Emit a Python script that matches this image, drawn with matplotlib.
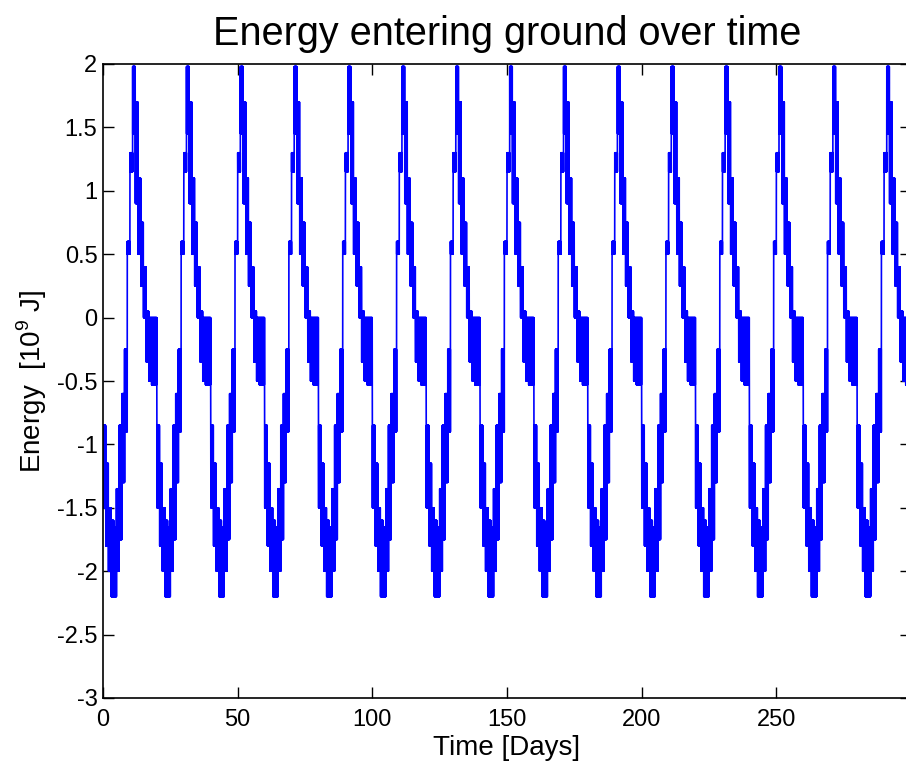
import numpy as np
import matplotlib.pyplot as plt

plt.rcParams['font.family'] = ['Liberation Sans', 'DejaVu Sans']
plt.rcParams['axes.unicode_minus'] = False

# One 20-day cycle: daily band of the energy signal [10^9 J]
# (the signal repeats identically over the whole run)
cycle_low = [-1.5, -1.8, -2.0, -2.2, -2.2, -2.0, -1.75, -1.3, -0.9, 0.5,
             1.15, 1.45, 0.9, 0.5, 0.25, 0.0, -0.35, -0.5, -0.53, -0.53]
cycle_high = [-0.85, -1.15, -1.5, -1.6, -1.65, -1.35, -0.85, -0.6, -0.25, 0.6,
              1.3, 1.98, 1.7, 1.1, 0.75, 0.4, 0.05, 0.0, 0.0, 0.0]
n_cycles = 15

x_ticks = [0, 50, 100, 150, 200, 250]
y_ticks = [-3, -2.5, -2, -1.5, -1, -0.5, 0, 0.5, 1, 1.5, 2]

# daily band -> hourly swing between the low and high value
day_low = np.tile(cycle_low, n_cycles)
day_high = np.tile(cycle_high, n_cycles)
per_day = 24
days = np.arange(len(day_low))
sub = np.arange(per_day)
time = (days[:, None] + (sub + 0.5) / per_day).ravel()
energy = np.where(sub % 2 == 0, day_high[:, None], day_low[:, None]).ravel()

fig = plt.figure(figsize=(9.06, 7.74), dpi=100)
ax = fig.add_axes([103 / 906, 1 - 698 / 774, 808 / 906, 634 / 774])

ax.plot(time, energy, color='#0000ff', linewidth=1.2)

ax.set_xlim(0, 300)
ax.set_ylim(-3, 2)
ax.set_xticks(x_ticks)
ax.set_yticks(y_ticks)
ax.set_yticklabels(['%g' % v for v in y_ticks])
ax.tick_params(direction='in', top=True, right=True, length=8, width=1,
               labelsize=17, colors='black')
ax.tick_params(axis='x', pad=8)
ax.tick_params(axis='y', pad=4)
for sp in ax.spines.values():
    sp.set_linewidth(1.2)

ax.set_title('Energy entering ground over time', fontsize=28.5, pad=14)
ax.set_xlabel('Time [Days]', fontsize=20, labelpad=3)
ax.set_ylabel(r'Energy  [10$^{\mathregular{9}}$ J]', fontsize=20, labelpad=6)

fig.savefig('out.png', dpi=100)
